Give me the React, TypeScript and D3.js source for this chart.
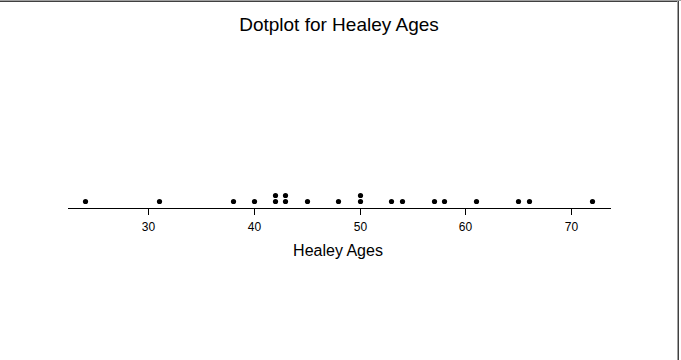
import React from "react";
import * as d3 from "d3";

const ages: number[] = [24, 31, 38, 40, 42, 42, 43, 43, 45, 48, 50, 50, 53, 54, 57, 58, 61, 65, 66, 72];
const tickValues: number[] = [30, 40, 50, 60, 70];
const title = "Dotplot for Healey Ages";
const xLabel = "Healey Ages";

export default function App() {
  const W = 681, H = 360;
  const axisY = 208;
  const x = d3.scaleLinear().domain([30, 70]).range([148, 571]);
  const x0 = 68, x1 = 611;

  const counts = new Map<number, number>();
  const dots = ages.map((v) => {
    const k = counts.get(v) || 0;
    counts.set(v, k + 1);
    return { v, k };
  });

  return (
    <svg width={W} height={H} style={{ position: "absolute", left: 0, top: 0, background: "#fff" }}
      fontFamily="'Liberation Sans', Arial, sans-serif">
      <rect x={0} y={0} width={W} height={H} fill="#fff" />
      <line x1={0} x2={W} y1={0.5} y2={0.5} stroke="#a0a0a0" />
      <line x1={0} x2={678} y1={1.5} y2={1.5} stroke="#404040" />
      <line x1={677.5} x2={677.5} y1={1} y2={H} stroke="#a0a0a0" />
      <line x1={678.5} x2={678.5} y1={1} y2={H} stroke="#404040" />
      <text x={339} y={31} textAnchor="middle" fontSize={19} fill="#000">{title}</text>
      <line x1={x0} x2={x1} y1={axisY + 0.5} y2={axisY + 0.5} stroke="#000" />
      {tickValues.map((t) => (
        <g key={t}>
          <line x1={Math.round(x(t)) + 0.5} x2={Math.round(x(t)) + 0.5} y1={axisY} y2={axisY + 7} stroke="#000" />
          <text x={Math.round(x(t)) + 0.5} y={axisY + 23} textAnchor="middle" fontSize={12} fill="#000">{t}</text>
        </g>
      ))}
      <text x={338} y={256} textAnchor="middle" fontSize={16} fill="#000">{xLabel}</text>
      {dots.map((d, i) => (
        <circle key={i} cx={Math.round(x(d.v)) + 0.5} cy={201.5 - d.k * 6} r={2.6} fill="#000" />
      ))}
    </svg>
  );
}
